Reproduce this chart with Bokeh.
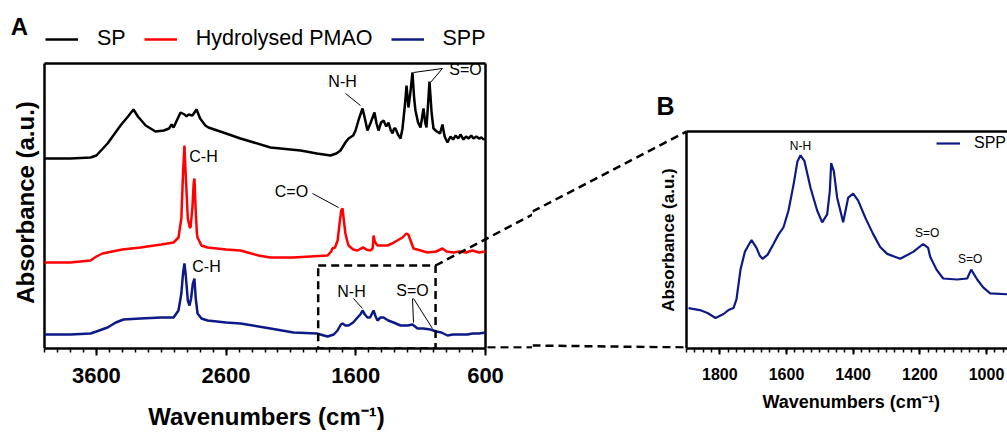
import math
from bokeh.plotting import figure
from bokeh.layouts import row
from bokeh.models import Range1d, FixedTicker, Legend, LegendItem, Label, BoxAnnotation, Title
from bokeh.core.properties import value
from bokeh.embed import file_html
from bokeh.resources import INLINE

FONT = "Liberation Sans"
BLACK, RED, NAVY = "#000000", "#ff0000", "#0c1a86"

SERIES = ["SP", "Hydrolysed PMAO", "SPP"]

SP_WN = [4000, 3800, 3645, 3600, 3514, 3414, 3350, 3314, 3280, 3220, 3144, 3080, 3040, 3020, 3005, 2980,
         2951, 2920, 2905, 2890, 2860, 2828, 2800, 2760, 2736, 2600, 2489, 2258, 2026, 1900, 1795, 1750,
         1718, 1680, 1656, 1620, 1602, 1575, 1548, 1530, 1510, 1485, 1456, 1440, 1425, 1405, 1386, 1365,
         1348, 1330, 1317, 1305, 1294, 1275, 1255, 1240, 1220, 1209, 1200, 1194, 1180, 1163, 1150, 1140,
         1120, 1101, 1090, 1078, 1065, 1055, 1045, 1032, 1015, 1001, 975, 950, 932, 915, 893, 870, 850,
         830, 810, 793, 770, 750, 730, 710, 693, 670, 650, 630, 615, 600]
SP_ABS = [1.90, 1.90, 1.91, 1.93, 2.05, 2.23, 2.33, 2.39, 2.32, 2.23, 2.17, 2.18, 2.20, 2.24, 2.21, 2.28,
          2.36, 2.34, 2.32, 2.34, 2.33, 2.39, 2.30, 2.23, 2.21, 2.15, 2.10, 2.01, 1.98, 1.95, 1.93, 1.95,
          1.98, 2.06, 2.10, 2.13, 2.18, 2.30, 2.40, 2.30, 2.18, 2.26, 2.36, 2.25, 2.18, 2.26, 2.28, 2.22,
          2.26, 2.18, 2.15, 2.20, 2.20, 2.14, 2.10, 2.20, 2.45, 2.63, 2.50, 2.41, 2.55, 2.76, 2.50, 2.38,
          2.26, 2.21, 2.30, 2.40, 2.26, 2.21, 2.40, 2.67, 2.35, 2.20, 2.17, 2.15, 2.24, 2.12, 2.06, 2.12, 2.09,
          2.13, 2.10, 2.14, 2.09, 2.12, 2.10, 2.13, 2.10, 2.12, 2.10, 2.11, 2.09, 2.10]

PMAO_WN = [4000, 3800, 3645, 3600, 3553, 3400, 3260, 3100, 3005, 2967, 2945, 2932, 2921, 2910, 2895, 2880,
           2874, 2860, 2850, 2844, 2835, 2825, 2820, 2790, 2743, 2600, 2489, 2350, 2258, 2080, 1950, 1818,
           1790, 1780, 1760, 1740, 1725, 1712, 1702, 1692, 1680, 1665, 1656, 1620, 1587, 1560, 1541, 1520,
           1487, 1470, 1463, 1455, 1445, 1433, 1400, 1356, 1320, 1280, 1240, 1210, 1195, 1175, 1155, 1100,
           1047, 980, 932, 900, 847, 800, 750, 700, 650, 600]
PMAO_ABS = [0.86, 0.86, 0.88, 0.92, 0.95, 0.99, 1.01, 1.04, 1.06, 1.11, 1.30, 1.75, 2.03, 1.70, 1.30, 1.21,
            1.21, 1.40, 1.65, 1.70, 1.40, 1.15, 1.11, 1.03, 1.01, 0.99, 0.98, 0.93, 0.91, 0.91, 0.92, 0.93,
            0.97, 1.00, 1.01, 1.08, 1.25, 1.38, 1.40, 1.28, 1.15, 1.07, 1.03, 0.99, 0.98, 1.00, 1.01, 0.99,
            0.98, 1.00, 1.13, 1.08, 1.05, 1.03, 1.03, 1.03, 1.05, 1.08, 1.11, 1.15, 1.14, 1.07, 1.00, 0.98,
            0.96, 0.97, 1.00, 0.97, 0.96, 0.97, 0.96, 0.98, 0.96, 0.97]

SPP_WN = [4000, 3800, 3645, 3600, 3514, 3450, 3391, 3260, 3100, 3005, 2967, 2945, 2932, 2921, 2910, 2895,
          2882, 2870, 2856, 2844, 2834, 2820, 2790, 2743, 2600, 2489, 2258, 2080, 1900, 1818, 1770, 1741,
          1715, 1702, 1680, 1656, 1620, 1587, 1565, 1548, 1530, 1510, 1490, 1463, 1450, 1433, 1410, 1386,
          1350, 1309, 1255, 1200, 1163, 1124, 1080, 1024, 980, 940, 893, 850, 800, 739, 700, 650, 600]
SPP_ABS = [0.14, 0.14, 0.15, 0.17, 0.21, 0.26, 0.29, 0.30, 0.31, 0.31, 0.38, 0.55, 0.75, 0.85, 0.72, 0.48,
           0.43, 0.50, 0.65, 0.70, 0.50, 0.35, 0.30, 0.28, 0.26, 0.25, 0.20, 0.16, 0.15, 0.12, 0.14, 0.18,
           0.24, 0.25, 0.23, 0.23, 0.26, 0.31, 0.34, 0.38, 0.34, 0.31, 0.31, 0.38, 0.33, 0.28, 0.31, 0.31,
           0.28, 0.26, 0.23, 0.23, 0.24, 0.20, 0.20, 0.19, 0.17, 0.16, 0.13, 0.14, 0.14, 0.14, 0.15, 0.15, 0.16]

ZOOM_WN = [1894, 1860, 1837, 1813, 1789, 1774, 1759, 1750, 1738, 1725, 1717, 1705, 1690, 1680, 1672, 1657,
           1639, 1625, 1609, 1594, 1579, 1567, 1558, 1546, 1528, 1508, 1493, 1478, 1470, 1466, 1458, 1448,
           1430, 1415, 1400, 1385, 1364, 1340, 1319, 1298, 1259, 1220, 1190, 1175, 1169, 1150, 1130, 1088,
           1058, 1046, 1028, 1010, 989, 938]
ZOOM_ABS = [0.41, 0.39, 0.36, 0.31, 0.35, 0.39, 0.41, 0.50, 0.80, 0.98, 1.03, 1.10, 1.02, 0.94, 0.91, 0.95,
            1.06, 1.15, 1.23, 1.40, 1.66, 1.90, 1.96, 1.90, 1.63, 1.40, 1.28, 1.36, 1.60, 1.88, 1.80, 1.53,
            1.28, 1.53, 1.57, 1.50, 1.33, 1.16, 1.03, 0.96, 0.91, 0.98, 1.06, 1.02, 0.93, 0.80, 0.71, 0.70,
            0.71, 0.80, 0.70, 0.62, 0.56, 0.55]

A_TICKS = [3600, 2600, 1600, 600]
B_TICKS = [1800, 1600, 1400, 1200, 1000]
ZOOM_REGION = (1890, 985)
A_SPAN = (4000, 600)
B_SPAN = (1900, 1000)
A_YMAX, B_YMAX = 2.85, 2.2
X_LABEL = "Wavenumbers (cm\u207b\u00b9)"
Y_LABEL = "Absorbance (a.u.)"

# ---- layout geometry (page pixels; the Bokeh page has no body margin) ----
W_TOTAL, H = 1007, 432
SPLIT = 532
A_FX0, A_FX1, A_FY0, A_FY1 = 44, 485, 63, 348      # panel A axes box
B_FX0, B_FX1, B_FY0, B_FY1 = 686, 986, 133, 353    # panel B: 1900 -> 686, 1000 -> 986


def a_wn(px):
    return A_SPAN[0] - (px - A_FX0) * (A_SPAN[0] - A_SPAN[1]) / (A_FX1 - A_FX0)


def a_px(wn):
    return A_FX0 + (A_SPAN[0] - wn) * (A_FX1 - A_FX0) / (A_SPAN[0] - A_SPAN[1])


def a_val(py):
    return (A_FY1 - py) * A_YMAX / (A_FY1 - A_FY0)


def a_py(v):
    return A_FY1 - v * (A_FY1 - A_FY0) / A_YMAX


def b_wn(px):
    return B_SPAN[0] - (px - B_FX0) * (B_SPAN[0] - B_SPAN[1]) / (B_FX1 - B_FX0)


def b_val(py):
    return (B_FY1 - py) * B_YMAX / (B_FY1 - B_FY0)


def style_xaxis(ax, tick_size, standoff, tick_out):
    ax.major_label_text_font = FONT
    ax.major_label_text_font_size = tick_size
    ax.major_label_text_font_style = "bold"
    ax.major_label_text_color = "black"
    ax.major_label_standoff = standoff
    ax.axis_line_width = 2.5
    ax.major_tick_line_width = 2
    ax.minor_tick_line_width = 1.5
    ax.major_tick_out = tick_out
    ax.major_tick_in = 0
    ax.minor_tick_out = 4
    ax.minor_tick_in = 0


# ================= Panel A =================
pA = figure(width=SPLIT, height=H, title=None,
            x_range=Range1d(a_wn(0), a_wn(SPLIT)), y_range=Range1d(0, a_val(0)),
            output_backend="svg", toolbar_location=None, y_axis_location=None,
            min_border_left=0, min_border_right=0, min_border_top=0, min_border_bottom=H - A_FY1)
pA.grid.visible = False
pA.outline_line_color = None

xa = pA.xaxis[0]
xa.bounds = (A_SPAN[1], A_SPAN[0])
xa.ticker = FixedTicker(ticks=A_TICKS, minor_ticks=list(range(600, 4001, 100)))
xa.axis_label = X_LABEL
xa.axis_label_text_font = FONT
xa.axis_label_text_font_size = "24px"
xa.axis_label_text_font_style = "bold"
xa.axis_label_text_color = "black"
xa.axis_label_standoff = 17
style_xaxis(xa, "22px", 12, 7)

# left, top and right sides of the A box
pA.segment(x0=[A_SPAN[0], A_SPAN[0], A_SPAN[1]], y0=[0, A_YMAX, 0],
           x1=[A_SPAN[0], A_SPAN[1], A_SPAN[1]], y1=[A_YMAX, A_YMAX, A_YMAX],
           line_color="black", line_width=2.5)
pA.text(x=[a_wn(25)], y=[a_val(202)], text=[Y_LABEL], angle=math.pi / 2,
        text_font=value(FONT), text_font_size="24px", text_font_style="bold",
        text_align="center", text_baseline="middle", text_color="black")

r_sp = pA.line(SP_WN, SP_ABS, line_color=BLACK, line_width=2.5)
r_pm = pA.line(PMAO_WN, PMAO_ABS, line_color=RED, line_width=2.5)
r_spp = pA.line(SPP_WN, SPP_ABS, line_color=NAVY, line_width=2.5)

legA = Legend(items=[LegendItem(label=SERIES[0], renderers=[r_sp]),
                     LegendItem(label=SERIES[1], renderers=[r_pm]),
                     LegendItem(label=SERIES[2], renderers=[r_spp])],
              orientation="horizontal", location=(45, A_FY1 - 51),
              label_text_font=FONT, label_text_font_size="21.5px", label_text_color="black",
              glyph_width=33, glyph_height=22, label_height=22, label_standoff=19, spacing=18,
              padding=0, margin=0, border_line_color=None, background_fill_alpha=0)
pA.add_layout(legA)

pA.add_layout(Label(x=a_wn(19), y=a_val(26), text="A", text_font=FONT, text_font_size="24px",
                    text_font_style="bold", text_color="black", text_align="center",
                    text_baseline="middle"))

A_NOTES = [("N-H", 1702, 2.67), ("S=O", 754, 2.79), ("C-H", 2774, 1.92), ("C=O", 2096, 1.57),
           ("C-H", 2751, 0.82), ("N-H", 1633, 0.57), ("S=O", 1163, 0.58)]
pA.text(x=[n[1] for n in A_NOTES], y=[n[2] for n in A_NOTES], text=[n[0] for n in A_NOTES],
        text_font=value(FONT), text_font_size="16px", text_align="center", text_baseline="middle",
        text_color="black")
A_LEADERS = [(1679, 2.55, 1564, 2.43), (932, 2.80, 1155, 2.76), (932, 2.80, 1024, 2.66),
             (1934, 1.55, 1733, 1.41), (1618, 0.50, 1548, 0.40), (1163, 0.50, 1155, 0.26),
             (1155, 0.50, 1009, 0.20)]
pA.segment(x0=[s[0] for s in A_LEADERS], y0=[s[1] for s in A_LEADERS],
           x1=[s[2] for s in A_LEADERS], y1=[s[3] for s in A_LEADERS],
           line_color="black", line_width=1)

pA.add_layout(BoxAnnotation(left=ZOOM_REGION[1], right=ZOOM_REGION[0], bottom=0, top=0.83,
                            fill_color=None, fill_alpha=0, line_color="black", line_alpha=1.0,
                            line_width=2.5, line_dash="8 5"))

# ================= Panel B =================
pB = figure(width=W_TOTAL - SPLIT, height=H, title=None,
            x_range=Range1d(b_wn(SPLIT), b_wn(W_TOTAL)), y_range=Range1d(0, b_val(0)),
            output_backend="svg", toolbar_location=None, y_axis_location=None,
            min_border_left=0, min_border_right=0, min_border_top=0, min_border_bottom=H - B_FY1)
pB.grid.visible = False
pB.outline_line_color = None

xb = pB.xaxis[0]
xb.bounds = (900, B_SPAN[0])
xb.ticker = FixedTicker(ticks=B_TICKS, minor_ticks=list(range(900, 1901, 25)))
style_xaxis(xb, "16px", 13, 6)
pB.add_layout(Title(text=X_LABEL, align="left", offset=762 - SPLIT, standoff=15,
                    text_font=FONT, text_font_size="18px", text_font_style="bold",
                    text_color="black"), "below")

# left and top sides of the B box
pB.segment(x0=[B_SPAN[0], B_SPAN[0]], y0=[0, B_YMAX], x1=[B_SPAN[0], b_wn(W_TOTAL)], y1=[B_YMAX, B_YMAX],
           line_color="black", line_width=2.5)
pB.text(x=[b_wn(668)], y=[B_YMAX / 2], text=[Y_LABEL], angle=math.pi / 2,
        text_font=value(FONT), text_font_size="17px", text_font_style="bold",
        text_align="center", text_baseline="middle", text_color="black")

r_zoom = pB.line(ZOOM_WN, ZOOM_ABS, line_color=NAVY, line_width=2.2)
legB = Legend(items=[LegendItem(label=SERIES[2], renderers=[r_zoom])], location=(936 - SPLIT, B_FY1 - 158),
              label_text_font=FONT, label_text_font_size="16px", label_text_color="black",
              glyph_width=24, glyph_height=20, label_height=20, label_standoff=14, padding=0, margin=0,
              border_line_color=None, background_fill_alpha=0)
pB.add_layout(legB)

B_NOTES = [("N-H", 1558, 2.05), ("S=O", 1178, 1.17), ("S=O", 1049, 0.91)]
pB.text(x=[n[1] for n in B_NOTES], y=[n[2] for n in B_NOTES], text=[n[0] for n in B_NOTES],
        text_font=value(FONT), text_font_size="12px", text_align="center", text_baseline="middle",
        text_color="black")
pB.add_layout(Label(x=b_wn(665), y=b_val(107), text="B", text_font=FONT, text_font_size="25px",
                    text_font_style="bold", text_color="black", text_align="center",
                    text_baseline="middle"))

# ================= connectors between panels =================
ux0, uy0 = a_px(ZOOM_REGION[1]), a_py(0.83)
lx0, ly0 = a_px(ZOOM_REGION[1]), A_FY1
ux1, uy1 = B_FX0, B_FY0
lx1, ly1 = B_FX0, B_FY1
u_split = uy0 + (SPLIT - ux0) * (uy1 - uy0) / (ux1 - ux0)
l_split = ly0 + (SPLIT - lx0) * (ly1 - ly0) / (lx1 - lx0)
dash = dict(line_color="black", line_width=2.5, line_dash="8 5")
pA.line([a_wn(ux0), a_wn(SPLIT)], [a_val(uy0), a_val(u_split)], **dash)
pA.line([a_wn(A_FX1 + 2), a_wn(SPLIT)], [a_val(A_FY1 - 1), a_val(A_FY1 - 1)], **dash)
pB.line([b_wn(SPLIT), b_wn(ux1)], [b_val(u_split), b_val(uy1)], **dash)
pB.line([b_wn(SPLIT), b_wn(lx1)], [b_val(l_split), b_val(ly1 - 1)], **dash)

layout = row(pA, pB, spacing=0)
open("out.html", "w").write(file_html(layout, INLINE))
